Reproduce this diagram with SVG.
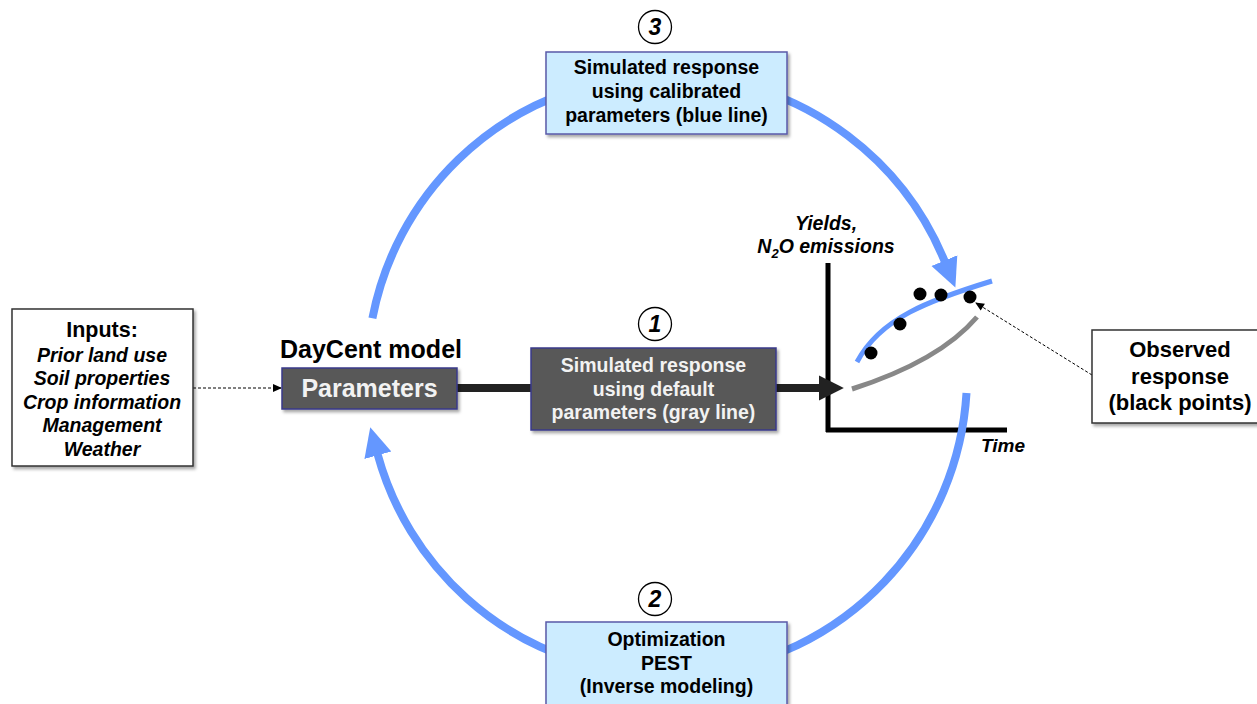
<svg xmlns="http://www.w3.org/2000/svg" width="1257" height="704" viewBox="0 0 1257 704">
<style>
text{font-family:"Liberation Sans",Arial,sans-serif;font-weight:bold;text-anchor:middle;fill:#000}
.it{font-style:italic}
.bx{font-size:19.5px}
.wt{fill:#F2F2F2}
.blue{fill:#CCECFF;stroke:#5A5AA8;stroke-width:1.5}
.gray{fill:#595959;stroke:#3A3A8A;stroke-width:1.5}
.white{fill:#fff;stroke:#333;stroke-width:1.5}
.arc{fill:none;stroke:#6497FF;stroke-width:8}
.num{fill:#fff;stroke:#000;stroke-width:1.3}
</style>
<defs>
<filter id="sh" x="-10%" y="-10%" width="130%" height="130%">
<feDropShadow dx="2" dy="2.5" stdDeviation="1.5" flood-color="#000" flood-opacity="0.35"/>
</filter>
<marker id="ba" markerUnits="userSpaceOnUse" markerWidth="30" markerHeight="30" viewBox="0 -14 28 28" refX="1" refY="0" orient="auto">
<path d="M0,-13 L27,0 L0,13 z" fill="#6497FF"/>
</marker>
<marker id="ka" markerUnits="userSpaceOnUse" markerWidth="26" markerHeight="26" viewBox="0 -12 24 24" refX="1" refY="0" orient="auto">
<path d="M0,-11.5 L23,0 L0,11.5 z" fill="#222"/>
</marker>
<marker id="sa" markerUnits="userSpaceOnUse" markerWidth="10" markerHeight="10" viewBox="0 -5 9 10" refX="8" refY="0" orient="auto">
<path d="M0,-4 L9,0 L0,4 z" fill="#000"/>
</marker>
</defs>

<g id="graph">
<line x1="828" y1="263" x2="828" y2="432" stroke="#000" stroke-width="5"/>
<line x1="826" y1="430" x2="1007" y2="430" stroke="#000" stroke-width="5"/>
<text class="it" x="826" y="230" font-size="19.5">Yields,</text>
<text class="it" x="826" y="253" font-size="19.5">N<tspan font-size="13" dy="5">2</tspan><tspan dy="-5">O emissions</tspan></text>
<text class="it" x="981" y="452" font-size="19" style="text-anchor:start">Time</text>
<path d="M852,389 Q939.5,361 977,317" fill="none" stroke="#888" stroke-width="5"/>
<path d="M857,362 C880,318 930,300 992,281" fill="none" stroke="#6497FF" stroke-width="5"/>
<circle cx="871" cy="353" r="6.5"/>
<circle cx="900" cy="324" r="6.5"/>
<circle cx="920" cy="294" r="6.5"/>
<circle cx="941" cy="295" r="6.5"/>
<circle cx="970" cy="297" r="6.5"/>
</g>

<g id="connectors">
<path class="arc" d="M372.4,318.3 A300,300 0 0 1 620,78.7"/>
<path class="arc" d="M700,77 A300,300 0 0 1 944.8,261.6" marker-end="url(#ba)"/>
<path class="arc" d="M700,673.2 A300,300 0 0 0 966.5,393"/>
<path class="arc" d="M620,671.3 A300,300 0 0 1 377.6,454.2" marker-end="url(#ba)"/>
<line x1="457" y1="388" x2="820" y2="388" stroke="#222" stroke-width="8" marker-end="url(#ka)"/>
<line x1="193" y1="388" x2="281" y2="388" stroke="#000" stroke-width="1" stroke-dasharray="3,2" marker-end="url(#sa)"/>
<line x1="1092" y1="375" x2="976" y2="303" stroke="#000" stroke-width="1" stroke-dasharray="3,2" marker-end="url(#sa)"/>
</g>

<g id="inputs">
<rect class="white" x="12" y="309" width="181" height="157" filter="url(#sh)"/>
<text x="102" y="337" font-size="21.5">Inputs:</text>
<text class="it" x="102" y="362" font-size="19.5">Prior land use</text>
<text class="it" x="102" y="385" font-size="19.5">Soil properties</text>
<text class="it" x="102" y="408.5" font-size="19.5">Crop information</text>
<text class="it" x="102" y="432" font-size="19.5">Management</text>
<text class="it" x="102" y="456" font-size="19.5">Weather</text>
</g>

<g id="daycent">
<text x="371" y="358" font-size="25">DayCent model</text>
<rect class="gray" x="282" y="368" width="175" height="41" filter="url(#sh)"/>
<text class="wt" x="369.5" y="397" font-size="25">Parameters</text>
</g>

<g id="step1">
<rect class="gray" x="531" y="348" width="245" height="82" filter="url(#sh)"/>
<text class="bx wt" x="653.5" y="372">Simulated response</text>
<text class="bx wt" x="653.5" y="395.5">using default</text>
<text class="bx wt" x="653.5" y="419">parameters (gray line)</text>
<circle class="num" cx="655" cy="324" r="16.5"/>
<text class="it" x="655" y="332" font-size="23">1</text>
</g>

<g id="step3">
<rect class="blue" x="546" y="52" width="241" height="82" filter="url(#sh)"/>
<text class="bx" x="666.5" y="74">Simulated response</text>
<text class="bx" x="666.5" y="98">using calibrated</text>
<text class="bx" x="666.5" y="122">parameters (blue line)</text>
<circle class="num" cx="655" cy="27" r="16.5"/>
<text class="it" x="655" y="35" font-size="23">3</text>
</g>

<g id="step2">
<rect class="blue" x="546" y="622" width="241" height="90" filter="url(#sh)"/>
<text class="bx" x="666.5" y="646">Optimization</text>
<text class="bx" x="666.5" y="669.5">PEST</text>
<text class="bx" x="666.5" y="693">(Inverse modeling)</text>
<circle class="num" cx="655" cy="599" r="16.5"/>
<text class="it" x="655" y="607" font-size="23">2</text>
</g>

<g id="observed">
<rect class="white" x="1092" y="330" width="170" height="93" filter="url(#sh)"/>
<text x="1180" y="357" font-size="22">Observed</text>
<text x="1180" y="384" font-size="22">response</text>
<text x="1180" y="410" font-size="22">(black points)</text>
</g>
</svg>
